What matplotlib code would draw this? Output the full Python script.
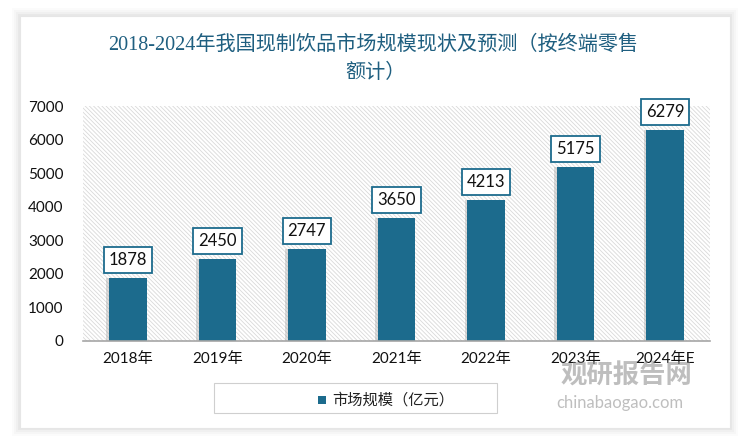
import numpy as np
import matplotlib.pyplot as plt
from matplotlib.patches import Rectangle

plt.rcParams['font.family'] = ['Lato', 'Noto Sans CJK SC', 'DejaVu Sans']
plt.rcParams['hatch.color'] = '#d9d9d9'
plt.rcParams['hatch.linewidth'] = 0.6

years = ['2018年', '2019年', '2020年', '2021年', '2022年', '2023年', '2024年E']
market_size = [1878, 2450, 2747, 3650, 4213, 5175, 6279]
yticks = [0, 1000, 2000, 3000, 4000, 5000, 6000, 7000]

bar_color = '#1c6b8d'
title_color = '#1f5f80'

fig = plt.figure(figsize=(7.5, 4.45), dpi=100)

# carte blanche avec ombre
for i, a in enumerate([0.015, 0.02, 0.025, 0.03]):
    d = (4 - i) * 2 / 750
    dy = (4 - i) * 2 / 445
    fig.patches.append(Rectangle((20 / 750 - d, 17 / 445 - dy), 710 / 750 + 2 * d, 412 / 445 + 2 * dy,
                                 transform=fig.transFigure, facecolor='black', alpha=a,
                                 edgecolor='none', zorder=0))
fig.patches.append(Rectangle((20 / 750, 17 / 445), 710 / 750, 412 / 445, transform=fig.transFigure,
                             facecolor='white', edgecolor='#e6e6e6', lw=0.8, zorder=1))

fig.text(0.498, 0.898, '2018-2024年我国现制饮品市场规模现状及预测（按终端零售',
         ha='center', va='center', fontsize=14.5, color=title_color,
         family=['Liberation Serif', 'Noto Sans CJK SC'])
fig.text(0.5, 0.836, '额计）', ha='center', va='center', fontsize=14.5, color=title_color,
         family=['Liberation Serif', 'Noto Sans CJK SC'])

ax = fig.add_axes([83 / 750, 104 / 445, 627 / 750, 235 / 445])
ax.set_zorder(1.5)
ax.patch.set_visible(False)
ax.add_patch(Rectangle((0, 0), 1, 1, transform=ax.transAxes, facecolor='white',
                       edgecolor='#d9d9d9', hatch='\\\\\\\\\\\\\\\\', lw=0, zorder=0))

x = np.arange(len(years))
# ombre des barres
ax.bar(x - 0.03, market_size, width=0.42, color='#999999', alpha=0.35, zorder=1)
ax.bar(x, market_size, width=0.42, color=bar_color, zorder=2)

for xi, v in zip(x, market_size):
    ax.annotate(str(v), (xi, v), xytext=(0, 13), textcoords='offset points',
                ha='center', va='center', fontsize=12, color='#111111', zorder=3,
                bbox=dict(boxstyle='square,pad=0.3', facecolor='white', edgecolor=bar_color, lw=1.3))

ax.set_xlim(-0.5, len(years) - 0.5)
ax.set_ylim(0, 7000)
ax.set_yticks(yticks)
ax.set_xticks(x)
ax.set_xticklabels(years, fontsize=11, color='#111111')
ax.tick_params(axis='y', labelsize=11, labelcolor='#111111', length=0, pad=14)
ax.tick_params(axis='x', length=0, pad=8)
for s in ['top', 'right', 'left']:
    ax.spines[s].set_visible(False)
ax.spines['bottom'].set_color('#a6a6a6')
ax.spines['bottom'].set_linewidth(1.2)

# légende
fig.patches.append(Rectangle((214 / 750, 32 / 445), 283 / 750, 30 / 445, transform=fig.transFigure,
                             facecolor='white', edgecolor='#cfcfcf', lw=0.8, zorder=2))
fig.patches.append(Rectangle((318 / 750, 41 / 445), 8 / 750, 8 / 445, transform=fig.transFigure,
                             facecolor=bar_color, edgecolor='none', zorder=3))
fig.text(332 / 750, 45 / 445, '市场规模（亿元）', ha='left', va='center', fontsize=11,
         color='#222222', zorder=4, family=['Noto Sans CJK SC'])

# filigrane
fig.text(626 / 750, 69 / 445, '观研报告网', ha='center', va='center', fontsize=19,
         fontweight='bold', color='#8a8a8a', alpha=0.55, family=['Noto Sans CJK SC'], zorder=5)
fig.text(620 / 750, 42 / 445, 'chinabaogao.com', ha='center', va='center', fontsize=12,
         color='#8a8a8a', alpha=0.55, zorder=5)

fig.savefig('out.png', dpi=100)
